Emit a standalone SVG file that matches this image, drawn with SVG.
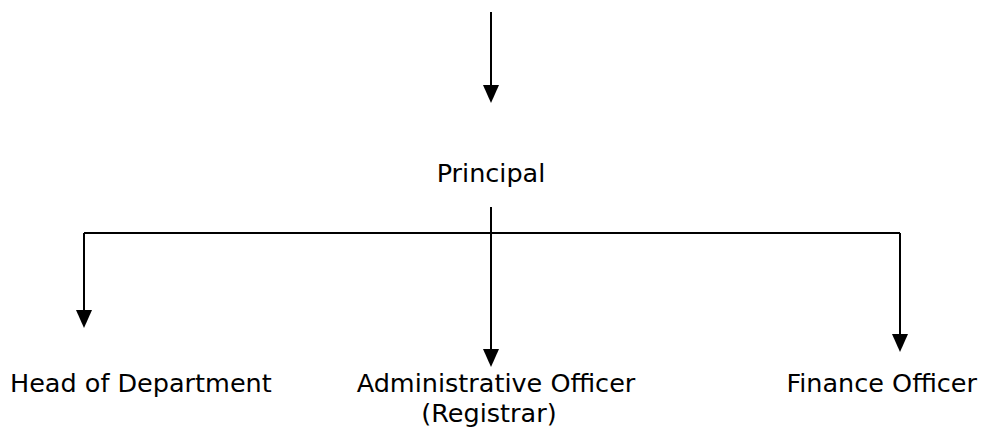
<svg xmlns="http://www.w3.org/2000/svg" width="981" height="445" viewBox="0 0 981 445">
<style>
.t{font-family:"DejaVu Sans","Liberation Sans",sans-serif;font-size:25.5px;fill:#000}
.m{text-anchor:middle}
.c{stroke:#000;stroke-width:2;fill:none}
.h{fill:#000}
</style>
<rect width="981" height="445" fill="#fff"/>
<g id="connectors">
<path class="c" d="M491,12 V86"/>
<path class="h" d="M483,85 L499,85 L491,103 Z"/>
<path class="c" d="M491,207 V350"/>
<path class="h" d="M483,349 L499,349 L491,367 Z"/>
<path class="c" d="M84,233 H900"/>
<path class="c" d="M84,233 V311"/>
<path class="h" d="M76,310 L92,310 L84,328 Z"/>
<path class="c" d="M900,233 V335"/>
<path class="h" d="M892,334 L908,334 L900,352 Z"/>
</g>
<g id="principal"><text class="t m" x="491" y="182">Principal</text></g>
<g id="hod"><text class="t" x="10" y="392">Head of Department</text></g>
<g id="ao"><text class="t m" x="496" y="392">Administrative Officer</text>
<text class="t m" x="489" y="422">(Registrar)</text></g>
<g id="fo"><text class="t" x="977" y="392" text-anchor="end">Finance Officer</text></g>
</svg>
